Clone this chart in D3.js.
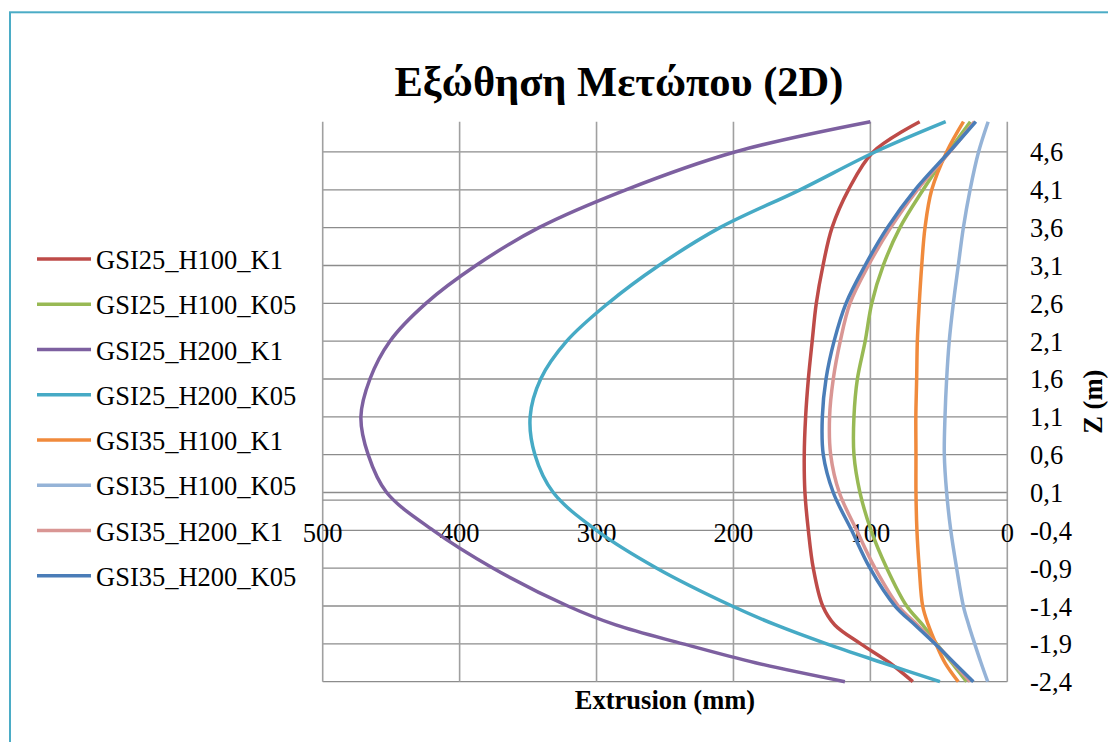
<!DOCTYPE html>
<html>
<head>
<meta charset="utf-8">
<script src="https://cdn.jsdelivr.net/npm/d3@7"></script>
<style>
  html, body { margin: 0; padding: 0; background: #fff; }
  svg { display: block; }
  svg text { font-family: "Liberation Serif", "Times New Roman", serif; fill: #000; }
</style>
</head>
<body>
<svg id="chart" width="1108" height="742"></svg>
<script>
// Depth levels (m) at which each extrusion profile was sampled
const zLevels = [5.0, 4.6, 4.1, 3.6, 3.1, 2.6, 2.1, 1.6, 1.1, 0.6, 0.1, -0.4, -0.9, -1.4, -1.65, -1.9, -2.15, -2.4];

// Face extrusion (mm) per scenario, one value per depth level
const seriesNames = [
  "GSI25_H100_K1", "GSI25_H100_K05", "GSI25_H200_K1", "GSI25_H200_K05",
  "GSI35_H100_K1", "GSI35_H100_K05", "GSI35_H200_K1", "GSI35_H200_K05"
];
const gsi25_h100_k1  = [64, 98, 116, 128, 134.6, 139.5, 142.5, 145.3, 147.3, 148.3, 147.8, 145.3, 141.7, 134.8, 126, 107, 86, 69];
const gsi25_h100_k05 = [27, 43, 61.5, 78.4, 90.6, 99, 103.8, 109.5, 112, 112, 107.6, 99.5, 88, 73.5, 61.8, 51.6, 40.6, 29.7];
const gsi25_h200_k1  = [100, 199, 278.6, 342.1, 388.1, 424.6, 450.9, 465.5, 472.1, 466.8, 453.3, 419.3, 375.5, 321, 286, 236.7, 184, 118.6];
const gsi25_h200_k05 = [45, 96.6, 151.4, 209.9, 254.5, 291.6, 321.8, 340.8, 348.5, 345, 331.6, 300, 256, 201, 169, 131.9, 91, 49.2];
const gsi35_h100_k1  = [32, 44.3, 55.2, 60.1, 62.5, 64.3, 65.7, 66.2, 66.8, 66.7, 66.7, 66, 64.3, 61.8, 57.7, 52.1, 45.5, 35.8];
const gsi35_h100_k05 = [14, 21, 27.2, 32.1, 35.8, 39.4, 42.4, 44.3, 45.5, 46, 44.3, 41.3, 37, 32.1, 28.2, 23.8, 19.2, 14.3];
const gsi35_h200_k1  = [24, 42, 65.7, 85.2, 101.5, 114.9, 122, 127.1, 129.8, 129, 122.7, 110, 96.6, 79.6, 65.7, 52.3, 39.4, 27.2];
const gsi35_h200_k05 = [23, 42.5, 67.4, 87.6, 103.9, 117.8, 126.5, 132.4, 135.1, 134.4, 127.1, 113.7, 100.3, 82, 67.4, 52.8, 38.9, 24.8];
const seriesValues = [
  gsi25_h100_k1, gsi25_h100_k05, gsi25_h200_k1, gsi25_h200_k05,
  gsi35_h100_k1, gsi35_h100_k05, gsi35_h200_k1, gsi35_h200_k05
];
const seriesColors = ["#BE4B48", "#98B954", "#7D60A0", "#46AAC5", "#F08A3C", "#95B3D7", "#D99694", "#4A7DB8"];

// Axis ticks and labels
const xTicks = [500, 400, 300, 200, 100, 0];
const xTickLabels = ["500", "400", "300", "200", "100", "0"];
const zTicks = [4.6, 4.1, 3.6, 3.1, 2.6, 2.1, 1.6, 1.1, 0.6, 0.1, -0.4, -0.9, -1.4, -1.9, -2.4];
const zTickLabels = ["4,6", "4,1", "3,6", "3,1", "2,6", "2,1", "1,6", "1,1", "0,6", "0,1", "-0,4", "-0,9", "-1,4", "-1,9", "-2,4"];

const titleText = "Εξώθηση Μετώπου (2D)";
const xTitle = "Extrusion (mm)";
const yTitle = "Z (m)";

const svg = d3.select("#chart");

// Plot frame
const plot = { left: 322.7, right: 1007.3, top: 121.7, bottom: 681.7 };
const x = d3.scaleLinear().domain([500, 0]).range([plot.left, plot.right]);
const y = d3.scaleLinear().domain([-2.4, 5.0]).range([plot.bottom, plot.top]);

// Outer chart border
svg.append("rect")
  .attr("x", 10).attr("y", 12.3)
  .attr("width", 1200).attr("height", 900)
  .attr("fill", "none")
  .attr("stroke", "#4BACC6")
  .attr("stroke-width", 2);

// Title
svg.append("text")
  .attr("x", 619).attr("y", 96)
  .attr("text-anchor", "middle")
  .attr("font-size", 42.5)
  .attr("font-weight", "bold")
  .text(titleText);

// Horizontal gridlines
svg.append("g").selectAll("line")
  .data(zTicks).join("line")
  .attr("x1", plot.left).attr("x2", plot.right)
  .attr("y1", d => y(d)).attr("y2", d => y(d))
  .attr("stroke", "#8c8c8c").attr("stroke-width", 1.3);

// Vertical gridlines
svg.append("g").selectAll("line")
  .data(xTicks).join("line")
  .attr("x1", d => x(d)).attr("x2", d => x(d))
  .attr("y1", plot.top).attr("y2", plot.bottom)
  .attr("stroke", "#a0a0a0").attr("stroke-width", 1.6);

// Horizontal value axis crossing at Z = 0
svg.append("line")
  .attr("x1", plot.left).attr("x2", plot.right)
  .attr("y1", y(0)).attr("y2", y(0))
  .attr("stroke", "#8c8c8c").attr("stroke-width", 1.3);

// X tick labels, placed under the Z = 0 axis
svg.append("g").selectAll("text")
  .data(xTicks).join("text")
  .attr("x", d => x(d))
  .attr("y", y(0) + 41.7)
  .attr("text-anchor", "middle")
  .attr("font-size", 26.5)
  .text((d, i) => xTickLabels[i]);

// Z tick labels on the right
svg.append("g").selectAll("text")
  .data(zTicks).join("text")
  .attr("x", 1030)
  .attr("y", d => y(d) + 9.5)
  .attr("text-anchor", "start")
  .attr("font-size", 26.5)
  .text((d, i) => zTickLabels[i]);

// Axis titles
svg.append("text")
  .attr("x", (plot.left + plot.right) / 2).attr("y", 708.5)
  .attr("text-anchor", "middle")
  .attr("font-size", 26.5)
  .attr("font-weight", "bold")
  .text(xTitle);

svg.append("text")
  .attr("transform", `translate(1102,${(plot.top + plot.bottom) / 2}) rotate(-90)`)
  .attr("text-anchor", "middle")
  .attr("font-size", 26.5)
  .attr("font-weight", "bold")
  .text(yTitle);

// Profiles
const line = d3.line()
  .x(d => x(d.v))
  .y(d => y(d.z))
  .curve(d3.curveCatmullRom.alpha(0.5));

svg.append("g").selectAll("path")
  .data(seriesValues.map((vals, i) => ({
    name: seriesNames[i],
    color: seriesColors[i],
    pts: vals.map((v, j) => ({ v, z: zLevels[j] }))
  })))
  .join("path")
  .attr("d", d => line(d.pts))
  .attr("fill", "none")
  .attr("stroke", d => d.color)
  .attr("stroke-width", 3.5)
  .attr("stroke-linejoin", "round");

// Legend
const legend = svg.append("g").selectAll("g")
  .data(seriesNames).join("g")
  .attr("transform", (d, i) => `translate(0,${259 + i * 45.25})`);
legend.append("line")
  .attr("x1", 37).attr("x2", 91)
  .attr("y1", 0).attr("y2", 0)
  .attr("stroke", (d, i) => seriesColors[i])
  .attr("stroke-width", 3.5);
legend.append("text")
  .attr("x", 96).attr("y", 10)
  .attr("font-size", 26.5)
  .text(d => d);
</script>
</body>
</html>
